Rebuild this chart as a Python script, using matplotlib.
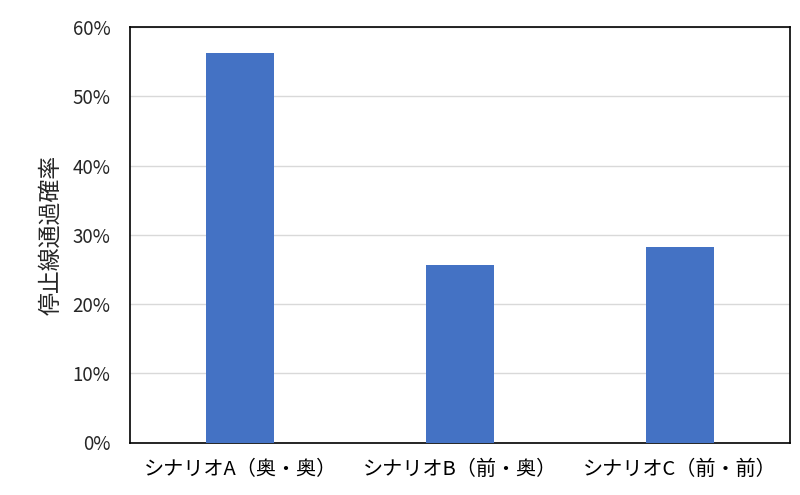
import matplotlib
matplotlib.use("Agg")
import matplotlib.pyplot as plt
from matplotlib.ticker import FuncFormatter

plt.rcParams['font.family'] = ['Noto Sans CJK JP', 'DejaVu Sans']

categories = ["シナリオA（奥・奥）", "シナリオB（前・奥）", "シナリオC（前・前）"]
values = [56.3, 25.6, 28.2]
yticks = [0, 10, 20, 30, 40, 50, 60]

fig = plt.figure(figsize=(8, 4.95), dpi=100)
ax = fig.add_axes([130/800, 1 - 442.5/495, 660/800, 415.5/495])

x = range(len(categories))
ax.bar(x, values, width=0.31, color="#4472C4", zorder=3)
ax.set_xlim(-0.5, 2.5)
ax.set_ylim(0, 60)
ax.set_yticks(yticks)
ax.yaxis.set_major_formatter(FuncFormatter(lambda v, p: f"{int(v)}%"))
ax.set_xticks(list(x))
ax.set_xticklabels(categories, fontsize=14.5)
ax.tick_params(axis='y', labelsize=13.5, length=0, pad=14, colors="#262626")
ax.tick_params(axis='x', length=0, pad=12, colors="#000000")
ax.grid(axis='y', color="#d9d9d9", linewidth=1, zorder=0)
for s in ax.spines.values():
    s.set_color("black")
    s.set_linewidth(1.2)
ax.set_ylabel("停止線通過確率", fontsize=16.5, labelpad=7, color="#262626")

fig.savefig("out.png", dpi=100)
